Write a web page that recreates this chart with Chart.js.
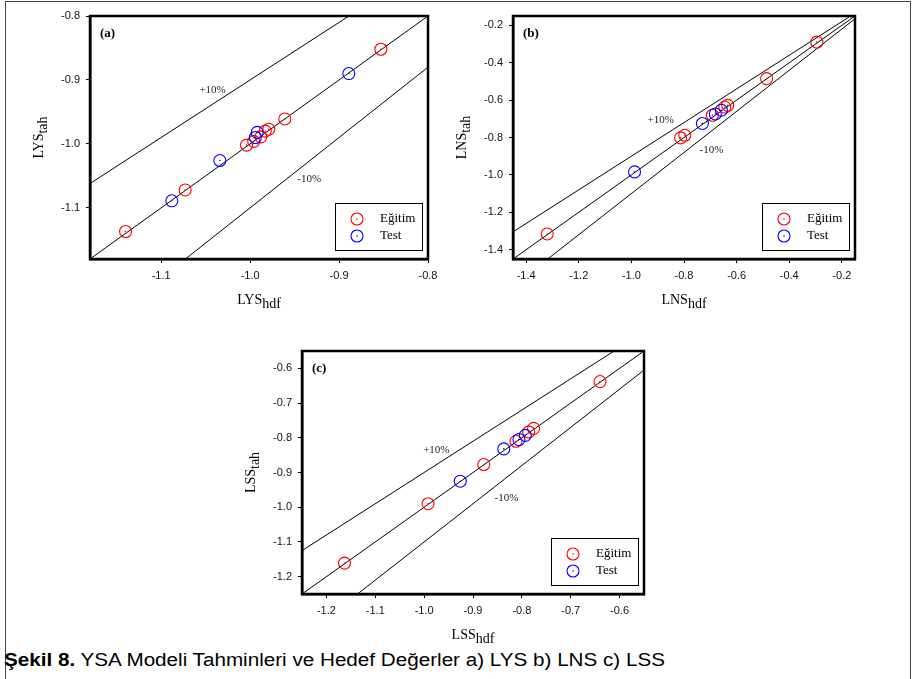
<!DOCTYPE html>
<html>
<head>
<meta charset="utf-8">
<script src="https://cdn.jsdelivr.net/npm/chart.js@4"></script>
<style>
  body { margin: 0; background: #fff; width: 913px; height: 679px; overflow: hidden; position: relative; }
  .frame { position: absolute; left: 5px; top: 1px; width: 904px; height: 700px; border: 1.5px solid #444; border-bottom: none; }
  canvas { position: absolute; }
  #caption { position: absolute; left: 4px; top: 651px; font-family: 'Liberation Sans Narrow', 'Liberation Sans', Arial, sans-serif;
             font-size: 18px; line-height: 18px; white-space: nowrap; color: #000; transform-origin: 0 0; }
</style>
</head>
<body>
<div class="frame"></div>
<canvas id="chartA" width="460" height="320" style="left:0;top:0"></canvas>
<canvas id="chartB" width="493" height="320" style="left:420px;top:0"></canvas>
<canvas id="chartC" width="460" height="315" style="left:215px;top:335px"></canvas>
<div id="caption"><b>Şekil 8.</b> YSA Modeli Tahminleri ve Hedef Değerler a) LYS b) LNS c) LSS</div>

<script>
// (a) LYS
const ticksA = [-1.1, -1.0, -0.9, -0.8];
const trainA_x = [-0.853, -0.961, -0.979, -0.983, -0.988, -0.996, -1.004, -1.073, -1.140];
const trainA_y = [-0.852, -0.961, -0.977, -0.980, -0.989, -0.996, -1.002, -1.072, -1.137];
const testA_x = [-0.889, -0.992, -0.994, -1.034, -1.088];
const testA_y = [-0.890, -0.982, -0.990, -1.026, -1.089];

// (b) LNS
const ticksB = [-1.4, -1.2, -1.0, -0.8, -0.6, -0.4, -0.2];
const trainB_x = [-0.295, -0.486, -0.634, -0.645, -0.692, -0.797, -0.813, -1.320];
const trainB_y = [-0.290, -0.485, -0.628, -0.637, -0.681, -0.788, -0.802, -1.316];
const testB_x = [-0.658, -0.681, -0.730, -0.988];
const testB_y = [-0.654, -0.674, -0.725, -0.984];

// (c) LSS
const ticksC = [-1.2, -1.1, -1.0, -0.9, -0.8, -0.7, -0.6];
const trainC_x = [-0.640, -0.776, -0.786, -0.812, -0.878, -0.992, -1.163];
const trainC_y = [-0.638, -0.773, -0.783, -0.810, -0.877, -0.990, -1.161];
const testC_x = [-0.793, -0.806, -0.837, -0.926];
const testC_y = [-0.793, -0.805, -0.832, -0.925];

// y = x and the +/-10% band
const bandFactors = [1, 0.9, 1.1];
const seriesNames = ['Eğitim', 'Test'];
const seriesColors = ['#ff0000', '#0000ff'];

const panels = [
  { id: 'chartA', letter: '(a)', name: 'LYS', range: [-1.18, -0.8], ticks: ticksA,
    train: [trainA_x, trainA_y], test: [testA_x, testA_y],
    plus: [-1.057, -0.916], minus: [-0.947, -1.055],
    area: { left: 90, right: 428, top: 16, bottom: 259 } },
  { id: 'chartB', letter: '(b)', name: 'LNS', range: [-1.45, -0.15], ticks: ticksB,
    train: [trainB_x, trainB_y], test: [testB_x, testB_y],
    plus: [-0.939, -0.705], minus: [-0.741, -0.865],
    area: { left: 93, right: 435, top: 16, bottom: 259 } },
  { id: 'chartC', letter: '(c)', name: 'LSS', range: [-1.25, -0.55], ticks: ticksC,
    train: [trainC_x, trainC_y], test: [testC_x, testC_y],
    plus: [-1.002, -0.836], minus: [-0.856, -0.974],
    area: { left: 87, right: 429, top: 16, bottom: 259 } }
];

function drawSub(ctx, main, sub, cx, cy) {
  const font = '14px "Liberation Serif", serif';
  ctx.font = font;
  const w1 = ctx.measureText(main).width, w2 = ctx.measureText(sub).width;
  const x0 = cx - (w1 + w2) / 2;
  ctx.textAlign = 'left'; ctx.textBaseline = 'alphabetic';
  ctx.fillText(main, x0, cy + 4);
  ctx.fillText(sub, x0 + w1, cy + 8);
}

function marker(ctx, cx, cy, color) {
  ctx.strokeStyle = color; ctx.fillStyle = color; ctx.lineWidth = 1.1;
  ctx.beginPath(); ctx.arc(cx, cy, 6, 0, Math.PI * 2); ctx.stroke();
  ctx.beginPath(); ctx.arc(cx, cy, 0.8, 0, Math.PI * 2); ctx.fill();
}

// small dot in the middle of every circle
const centerDots = {
  id: 'centerDots',
  afterDatasetsDraw(chart) {
    const { ctx } = chart;
    ctx.save();
    chart.data.datasets.forEach((ds, i) => {
      if (!ds.dot) return;
      ctx.fillStyle = ds.dot;
      chart.getDatasetMeta(i).data.forEach(el => {
        ctx.beginPath(); ctx.arc(el.x, el.y, 0.8, 0, Math.PI * 2); ctx.fill();
      });
    });
    ctx.restore();
  }
};

const decor = {
  id: 'decor',
  afterDraw(chart, args, o) {
    const { ctx, chartArea: a, scales: { x, y } } = chart;
    ctx.save();
    ctx.fillStyle = '#000';
    ctx.strokeStyle = '#000';
    ctx.lineWidth = 2.5;
    ctx.strokeRect(a.left, a.top, a.right - a.left, a.bottom - a.top);

    ctx.textAlign = 'left'; ctx.textBaseline = 'middle';
    ctx.font = 'bold 13px "Liberation Serif", serif';
    ctx.fillText(o.letter, a.left + 10, a.top + 18);

    ctx.font = '11px "Liberation Serif", serif';
    ctx.fillStyle = '#222';
    ctx.fillText('+10%', x.getPixelForValue(o.plus[0]), y.getPixelForValue(o.plus[1]));
    ctx.fillText('-10%', x.getPixelForValue(o.minus[0]), y.getPixelForValue(o.minus[1]));

    ctx.fillStyle = '#000';
    drawSub(ctx, o.name, 'hdf', (a.left + a.right) / 2, a.bottom + 41);
    ctx.save();
    ctx.translate(a.left - 47, (a.top + a.bottom) / 2);
    ctx.rotate(-Math.PI / 2);
    drawSub(ctx, o.name, 'tah', 0, -4);
    ctx.restore();

    // legend
    const bx = a.right - 93, by = a.bottom - 56;
    ctx.lineWidth = 1;
    ctx.strokeStyle = '#000';
    ctx.strokeRect(bx + 0.5, by + 0.5, 87, 47);
    ctx.font = '13px "Liberation Serif", serif';
    ctx.textBaseline = 'middle';
    seriesNames.forEach((name, i) => {
      const cy = by + 16 + i * 17;
      marker(ctx, bx + 22, cy, seriesColors[i]);
      ctx.fillStyle = '#000';
      ctx.fillText(name, bx + 45, cy);
    });
    ctx.restore();
  }
};

panels.forEach(p => {
  const canvas = document.getElementById(p.id);
  const W = canvas.width, H = canvas.height;
  const [lo, hi] = p.range;
  const pts = (xs, ys) => xs.map((v, i) => ({ x: v, y: ys[i] }));
  const pointSet = (label, data, color) => ({
    label, data, dot: color, pointStyle: 'circle', pointRadius: 6, pointHoverRadius: 6,
    pointBorderWidth: 1.1, pointBorderColor: color, pointBackgroundColor: 'rgba(0,0,0,0)'
  });

  const datasets = [
    pointSet('Test', pts(p.test[0], p.test[1]), seriesColors[1]),
    pointSet('Eğitim', pts(p.train[0], p.train[1]), seriesColors[0])
  ];
  bandFactors.forEach(f => datasets.push({
    data: [{ x: lo, y: lo * f }, { x: hi, y: hi * f }],
    showLine: true, borderColor: '#000', borderWidth: 1, pointRadius: 0, fill: false
  }));

  const tickStyle = { color: '#111', font: { family: '"Liberation Sans", Arial, sans-serif', size: 11 } };
  const scale = (size) => ({
    type: 'linear', min: lo, max: hi,
    grid: { drawOnChartArea: false, drawTicks: true, tickLength: 4, color: '#000' },
    border: { display: true, color: '#000', width: 2.5 },
    afterBuildTicks: s => { s.ticks = p.ticks.map(v => ({ value: v })); },
    ticks: { ...tickStyle, padding: 6, maxRotation: 0, autoSkip: false, callback: v => v.toFixed(1) },
    afterFit: s => { if (s.isHorizontal()) s.height = size; else s.width = size; }
  });

  new Chart(canvas.getContext('2d'), {
    type: 'scatter',
    data: { datasets },
    options: {
      responsive: false,
      animation: false,
      layout: { padding: { top: p.area.top, right: W - p.area.right, left: 0, bottom: 0 } },
      plugins: { legend: { display: false }, tooltip: { enabled: false }, decor: p },
      scales: { x: scale(H - p.area.bottom), y: scale(p.area.left) }
    },
    plugins: [centerDots, decor]
  });
});

// squeeze the caption to its width in the figure
const cap = document.getElementById('caption');
const cw = cap.getBoundingClientRect().width;
cap.style.transform = `scaleX(${661 / cw})`;
</script>
</body>
</html>
